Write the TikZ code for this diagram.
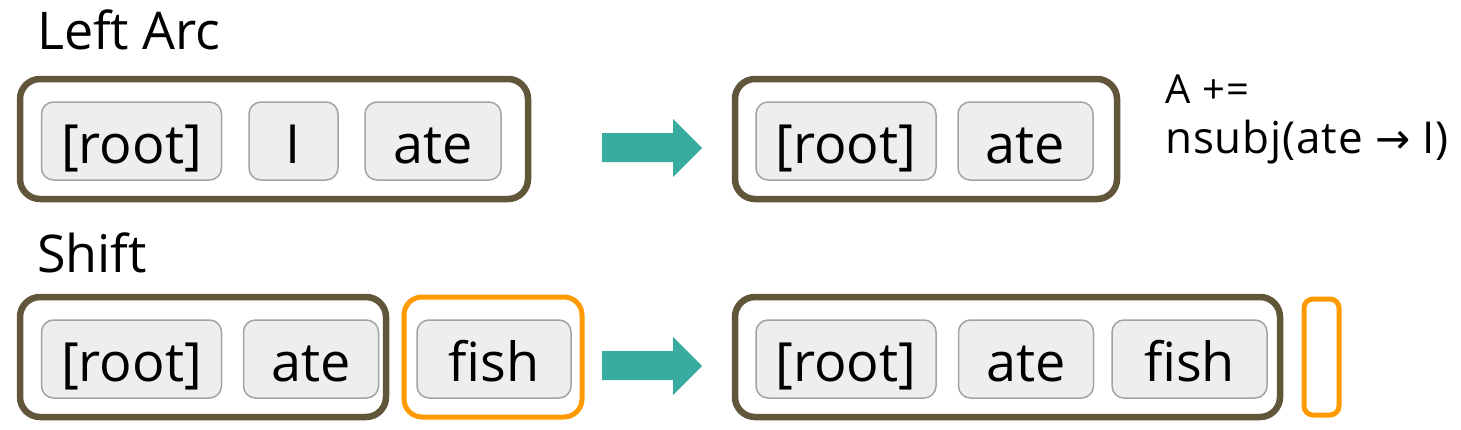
\documentclass[tikz,border=0pt]{standalone}
\usepackage{fontspec}
\setmainfont{Open Sans}
\newfontfamily\arrowfont{DejaVu Sans}
\definecolor{stackc}{HTML}{62563A}
\definecolor{orangec}{HTML}{FF9B00}
\definecolor{tealc}{HTML}{37AC9F}
\definecolor{tokfill}{HTML}{EEEEEE}
\definecolor{tokdraw}{HTML}{A3A3A3}
\begin{document}
\begin{tikzpicture}[x=1pt,y=-1pt,
  outerbox/.style={draw=stackc, line width=6.5pt, rounded corners=20pt, minimum height=120pt, inner sep=0pt},
  bufbox/.style={draw=orangec, line width=5pt, rounded corners=18pt, minimum height=120pt, inner sep=0pt},
  tok/.style={draw=tokdraw, fill=tokfill, line width=1.5pt, rounded corners=12pt, minimum height=78pt, inner sep=0pt,
     text height=44pt, text depth=0pt, font=\fontsize{54}{60}\selectfont},
  title/.style={anchor=base west, inner sep=0pt, font=\fontsize{52}{58}\selectfont},
  bigarrow/.style={fill=tealc, draw=none}
]
\useasboundingbox (0,0) rectangle (1461,429);

% titles
\node[title] (t1) at (37,49) {Left Arc};
\node[title] (t2) at (37,272) {Shift};

% Row 1 left
\node[outerbox, minimum width=508pt] (s1) at (274,139) {};
\node[tok, minimum width=180pt] (r1root) at (131.5,141) {[root]};
\node[tok, minimum width=89pt] (r1i) at (293.5,141) {I};
\node[tok, minimum width=136pt] (r1ate) at (433,141) {ate};

% arrow 1
\fill[bigarrow] (602,133) -- (673,133) -- (673,119) -- (702,148) -- (673,177) -- (673,162) -- (602,162) -- cycle;

% Row 1 right
\node[outerbox, minimum width=382pt] (s2) at (926,139) {};
\node[tok, minimum width=180pt] (r2root) at (846,141) {[root]};
\node[tok, minimum width=135pt] (r2ate) at (1025.5,141) {ate};

% annotation
\node[anchor=base west, inner sep=0pt, font=\fontsize{40}{46}\selectfont\addfontfeature{LetterSpace=4}] (a1) at (1165,103) {A +=};
\node[anchor=base west, inner sep=0pt, font=\fontsize{44}{50}\selectfont\addfontfeature{LetterSpace=2}] (a2) at (1165,153) {nsubj(ate {\arrowfont\fontsize{42}{44}\selectfont →} I)};

% Row 2 left
\node[outerbox, minimum width=366pt] (s3) at (203,357) {};
\node[tok, minimum width=180pt] (r3root) at (131.5,359) {[root]};
\node[tok, minimum width=135pt] (r3ate) at (311,359) {ate};
\node[bufbox, minimum width=178pt] (b3) at (493,357) {};
\node[tok, minimum width=154pt] (r3fish) at (494,359) {fish};

% arrow 2
\fill[bigarrow] (602,351) -- (673,351) -- (673,337) -- (702,366) -- (673,395) -- (673,380) -- (602,380) -- cycle;

% Row 2 right
\node[outerbox, minimum width=545pt] (s4) at (1007.5,357) {};
\node[tok, minimum width=180pt] (r4root) at (846,359) {[root]};
\node[tok, minimum width=135pt] (r4ate) at (1026,359) {ate};
\node[tok, minimum width=155pt] (r4fish) at (1189.5,359) {fish};
\node[bufbox, minimum width=35pt, minimum height=116pt, rounded corners=9pt] (b4) at (1321.5,357) {};
\end{tikzpicture}
\end{document}
